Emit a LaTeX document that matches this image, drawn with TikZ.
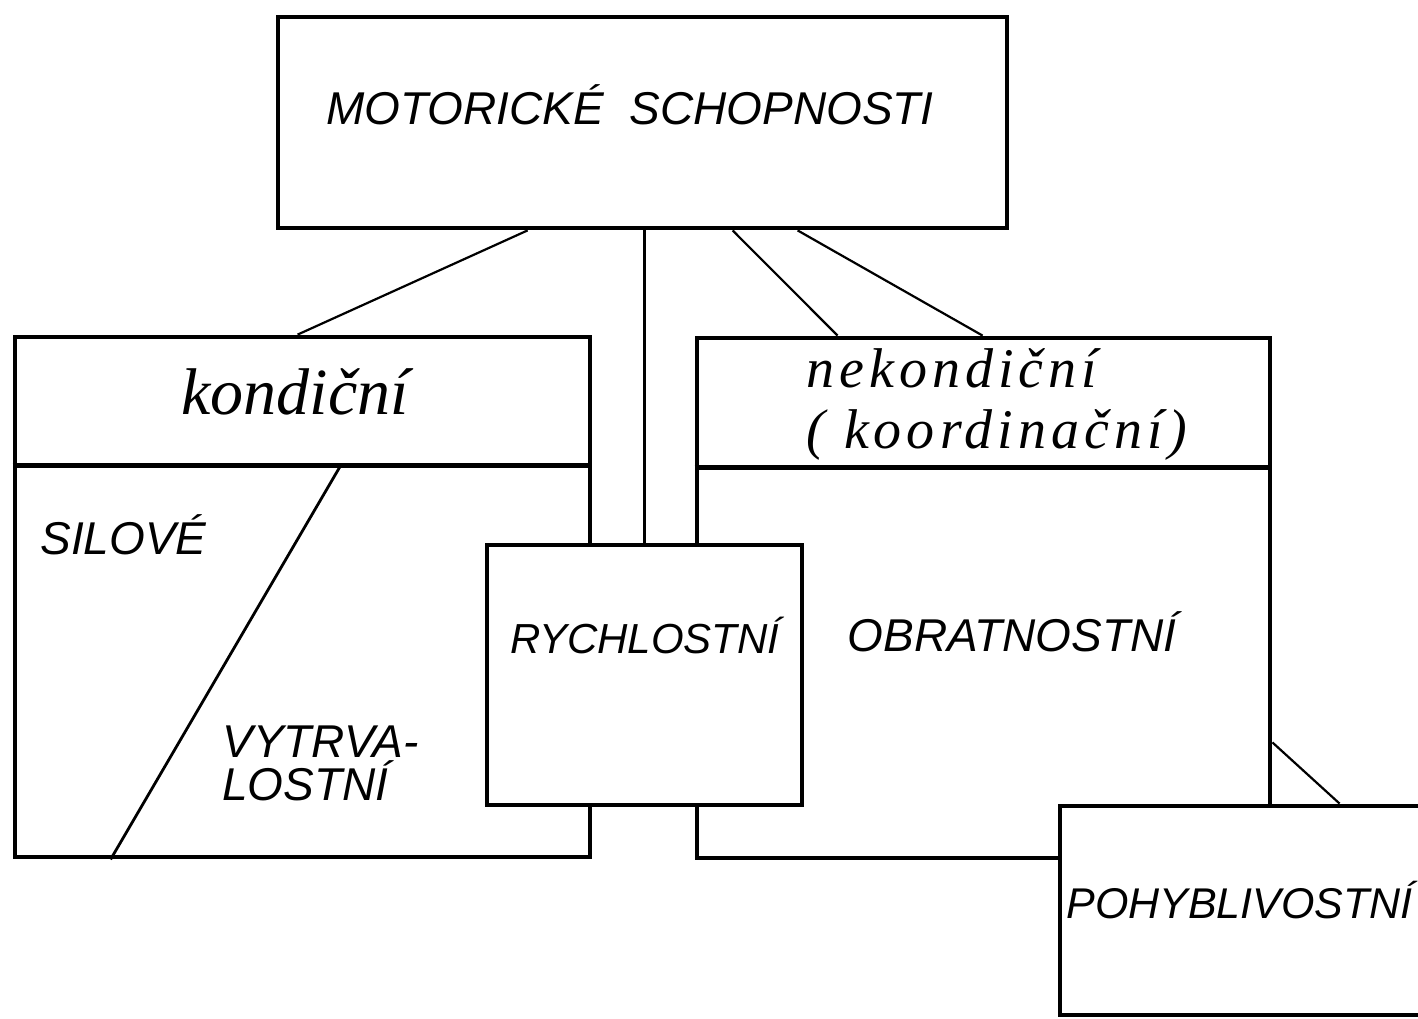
\documentclass[tikz,border=0pt]{standalone}
\usepackage{fontspec}
\setmainfont{Liberation Sans}
\newfontfamily\handfont{Liberation Serif}
\newfontfamily\handwide{Liberation Serif}[LetterSpace=9]
\usetikzlibrary{fit,calc}
\tikzset{
  box/.style={draw, line width=2.4pt, inner sep=0pt},
  wbox/.style={box, fill=white},
  conn/.style={line width=1.1pt},
  divline/.style={line width=2.2pt},
  caps/.style={font=\fontsize{23}{21.5}\selectfont\itshape, inner sep=0pt},
  capsmid/.style={font=\fontsize{21.5}{22}\selectfont\itshape, inner sep=0pt},
  capssmall/.style={font=\fontsize{21}{21}\selectfont\itshape, inner sep=0pt},
  capsbig/.style={font=\fontsize{23}{24}\selectfont\itshape, inner sep=0pt},
  hand/.style={font=\handfont\fontsize{33}{33}\selectfont\itshape, inner sep=0pt},
  handsmall/.style={font=\handwide\fontsize{28}{30.5}\selectfont\itshape, inner sep=0pt},
}
\begin{document}
\begin{tikzpicture}[x=0.5pt, y=-0.5pt]
\useasboundingbox (0,0) rectangle (1418,1018);
\clip (0,0) rectangle (1418,1018);
\fill[white] (0,0) rectangle (1418,1018);
% main boxes
\node[box, fit={(278,17) (1007,228)}] (top) {};
\node[box, fit={(15,337) (590,857)}] (kond) {};
\node[box, fit={(697,338) (1270,858)}] (nek) {};
% dividers
\draw[divline] ($(kond.north west)+(0,131)$) -- ($(kond.north east)+(0,131)$);
\draw[divline] ($(nek.north west)+(0,132)$) -- ($(nek.north east)+(0,132)$);
\draw[conn, line width=1.4pt] ($(kond.north west)+(328,131)$) -- ($(kond.south west)+(98,0)$);
% overlapping boxes
\node[wbox, fit={(487,545) (802,805)}] (rych) {};
\node[wbox, fit={(1060,806) (1450,1015)}] (pohyb) {};
% connectors
\draw[conn] ($(top.south west)+(252,0)$) -- ($(kond.north west)+(285,0)$);
\draw[conn] (rych.north |- top.south) -- (rych.north);
\draw[conn] ($(top.south west)+(457,0)$) -- ($(nek.north west)+(143,0)$);
\draw[conn] ($(top.south west)+(522,0)$) -- ($(nek.north west)+(288,0)$);
\draw[conn] ($(nek.south east)+(0,-118)$) -- ($(pohyb.north west)+(282,0)$);
% texts
\node[capsbig] (ttop) at (630,105) {MOTORICKÉ\ \ SCHOPNOSTI};
\node[hand] (tkond) at (295,392) {kondiční};
\node[handsmall, anchor=west, align=left] (tnek) at (806,404) {nekondiční\\( koordinační)};
\node[caps, anchor=west] (tsil) at (40,535) {SILOVÉ};
\node[caps, anchor=west, align=left] (tvyt) at (222,763) {VYTRVA-\\LOSTNÍ};
\node[capssmall] (trych) at (645,635) {RYCHLOSTNÍ};
\node[caps] (tobr) at (1012,632) {OBRATNOSTNÍ};
\node[capsmid, anchor=west] (tpoh) at (1066,900) {POHYBLIVOSTNÍ};
\end{tikzpicture}
\end{document}
